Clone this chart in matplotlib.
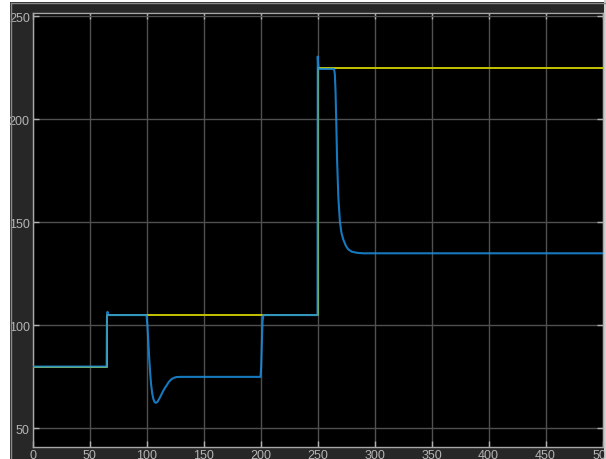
import matplotlib
matplotlib.use("Agg")
import matplotlib.pyplot as plt
from matplotlib.patches import Rectangle
from matplotlib.lines import Line2D

plt.rcParams['font.family'] = ['Liberation Sans', 'DejaVu Sans']

# Setpoint (yellow)
sp_t = [0, 65, 65, 250, 250, 500]
sp_v = [80, 80, 105, 105, 225, 225]

# Response (blue)
resp_t = [0, 65, 65.3, 65.8, 66.6, 100, 100.8, 101.6, 102.4, 103.2, 104, 105, 106, 107, 108,
          109.5, 111, 112.6, 114.5, 116, 117.6, 119.5, 121.5, 123.5, 126, 130,
          200, 200.6, 201.2, 201.8, 202.5, 250, 250.2, 250.6, 251.2, 264.5,
          265.2, 265.8, 266.4, 267.2, 268.3, 269.7, 271, 272.6, 275, 277, 280, 285, 290, 500]
resp_v = [80, 80, 104, 106.6, 105, 105, 100, 92, 84, 77, 71.5, 67, 64.3, 62.9, 62.4,
          62.8, 64.2, 65.9, 68, 69.5, 70.8, 72.5, 73.7, 74.4, 74.9, 75,
          75, 80, 92, 102, 105, 105, 230.5, 227, 224.5, 224.5,
          222, 214, 200, 180, 162, 150, 145, 141.7, 138.5, 136.9, 135.8, 135.2, 135, 135]

x_ticks = [0, 50, 100, 150, 200, 250, 300, 350, 400, 450, 500]
y_ticks = [50, 100, 150, 200, 250]

panel = "#272727"
fig = plt.figure(figsize=(6.06, 4.6), dpi=100, facecolor=panel)
# white margins left, top, right
fig.patches.append(Rectangle((0, 0), 10/606, 1, transform=fig.transFigure, facecolor="white", edgecolor="none", zorder=-5))
fig.patches.append(Rectangle((0, 1 - 3/460), 1, 3/460, transform=fig.transFigure, facecolor="white", edgecolor="none", zorder=-5))
fig.patches.append(Rectangle((1 - 2/606, 0), 2/606, 1, transform=fig.transFigure, facecolor="#d0d0d0", edgecolor="none", zorder=-5))
fig.lines.append(Line2D([10.5/606, 10.5/606], [0, 1 - 3.5/460], transform=fig.transFigure, color="#8a8a8a", lw=1))
fig.lines.append(Line2D([10.5/606, 1], [1 - 3.5/460, 1 - 3.5/460], transform=fig.transFigure, color="#8a8a8a", lw=1))

ax = fig.add_axes([32.5/606, 12.5/460, 570/606, 434/460])
ax.set_facecolor("black")
ax.plot(sp_t, sp_v, color="#c4c400", lw=1.4, zorder=3)
ax.plot(resp_t, resp_v, color="#1a8ee0", lw=1.5, alpha=0.85, zorder=4)

ax.set_xlim(0, 500)
ax.set_ylim(41.2, 251.9)
ax.set_xticks(x_ticks)
ax.set_yticks(y_ticks)
ax.grid(True, color="#505050", lw=1)
ax.set_axisbelow(True)
for s in ax.spines.values():
    s.set_color("#a8a8a8")
    s.set_linewidth(1)
ax.tick_params(direction="in", length=4, width=1, color="#b0b0b0",
               labelcolor="#b4b4b4", labelsize=9, top=True, right=True, pad=2)

fig.savefig("out.png", dpi=100, facecolor=panel)
